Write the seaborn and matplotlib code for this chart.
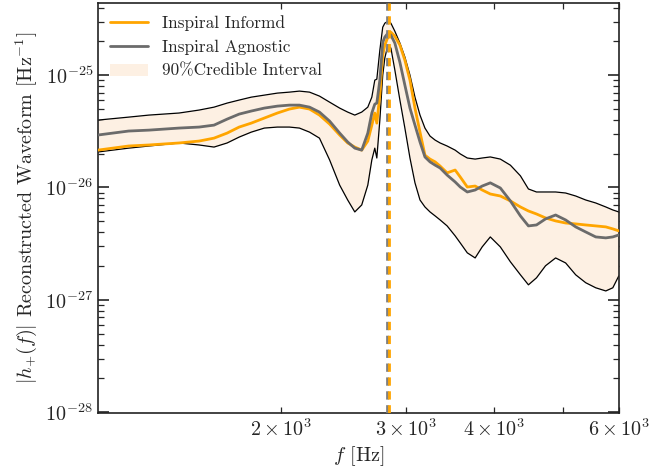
import numpy as np
import pandas as pd
import matplotlib
matplotlib.use("Agg")
import matplotlib.pyplot as plt
import seaborn as sns
from matplotlib.patches import Patch
from matplotlib.lines import Line2D

# ---- data ----
freq = [1100, 1216, 1299, 1433, 1530, 1606, 1676, 1743, 1813, 1892,
        1974, 2053, 2121, 2192, 2264, 2340, 2418, 2482, 2540, 2598,
        2650, 2685, 2711, 2729, 2756, 2782, 2801, 2829, 2857, 2894,
        2942, 2990, 3040, 3090, 3141, 3192, 3245, 3300, 3354, 3431,
        3522, 3581, 3664, 3759, 3846, 3949, 4080, 4216, 4356, 4471,
        4590, 4727, 4885, 5047, 5215, 5388, 5567, 5752, 5885, 6000]

informed = [2.15e-26, 2.34e-26, 2.39e-26, 2.49e-26, 2.59e-26, 2.75e-26, 3.05e-26, 3.45e-26, 3.74e-26, 4.15e-26,
            4.60e-26, 4.99e-26, 5.19e-26, 4.99e-26, 4.41e-26, 3.67e-26, 2.93e-26, 2.49e-26, 2.29e-26, 2.15e-26,
            2.59e-26, 3.59e-26, 4.60e-26, 3.74e-26, 6.64e-26, 1.51e-25, 1.85e-25, 2.18e-25, 2.41e-25, 2.22e-25,
            1.85e-25, 1.36e-25, 9.03e-26, 5.09e-26, 3.11e-26, 1.94e-26, 1.79e-26, 1.69e-26, 1.55e-26, 1.35e-26,
            1.43e-26, 1.24e-26, 1.01e-26, 1.03e-26, 9.50e-27, 8.75e-27, 8.40e-27, 7.59e-27, 6.71e-27, 6.18e-27,
            5.81e-27, 5.36e-27, 5.04e-27, 4.83e-27, 4.74e-27, 4.64e-27, 4.55e-27, 4.46e-27, 4.28e-27, 4.11e-27]

agnostic = [2.93e-26, 3.18e-26, 3.24e-26, 3.38e-26, 3.45e-26, 3.59e-26, 4.06e-26, 4.50e-26, 4.79e-26, 5.09e-26,
            5.30e-26, 5.41e-26, 5.41e-26, 5.19e-26, 4.69e-26, 3.90e-26, 3.05e-26, 2.54e-26, 2.24e-26, 2.15e-26,
            3.05e-26, 4.60e-26, 5.52e-26, 5.64e-26, 9.03e-26, 1.96e-25, 2.18e-25, 2.36e-25, 2.27e-25, 1.93e-25,
            1.30e-25, 8.15e-26, 5.09e-26, 3.59e-26, 2.54e-26, 1.87e-26, 1.69e-26, 1.58e-26, 1.49e-26, 1.29e-26,
            1.12e-26, 1.01e-26, 9.12e-27, 9.50e-27, 1.03e-26, 1.10e-26, 9.90e-27, 7.59e-27, 5.58e-27, 4.55e-27,
            4.64e-27, 5.25e-27, 5.69e-27, 5.14e-27, 4.46e-27, 4.02e-27, 3.63e-27, 3.56e-27, 3.63e-27, 3.78e-27]

upper = [3.98e-26, 4.23e-26, 4.41e-26, 4.60e-26, 4.89e-26, 5.19e-26, 5.64e-26, 6.00e-26, 6.37e-26, 6.64e-26,
         6.92e-26, 7.06e-26, 7.21e-26, 7.06e-26, 6.51e-26, 5.75e-26, 5.09e-26, 4.69e-26, 4.41e-26, 4.69e-26,
         5.19e-26, 6.37e-26, 9.03e-26, 9.21e-26, 1.67e-25, 2.67e-25, 2.90e-25, 3.02e-25, 2.90e-25, 2.46e-25,
         1.93e-25, 1.45e-25, 1.00e-25, 6.37e-26, 4.41e-26, 3.38e-26, 2.87e-26, 2.64e-26, 2.49e-26, 2.34e-26,
         2.15e-26, 1.99e-26, 1.83e-26, 1.79e-26, 1.83e-26, 1.87e-26, 1.79e-26, 1.58e-26, 1.27e-26, 9.70e-27,
         9.12e-27, 9.12e-27, 9.12e-27, 8.93e-27, 8.40e-27, 7.74e-27, 7.28e-27, 6.71e-27, 6.31e-27, 6.06e-27]

lower = [2.07e-26, 2.24e-26, 2.34e-26, 2.49e-26, 2.39e-26, 2.29e-26, 2.49e-26, 2.81e-26, 3.11e-26, 3.38e-26,
         3.45e-26, 3.45e-26, 3.38e-26, 3.11e-26, 2.75e-26, 1.76e-26, 1.05e-26, 7.74e-27, 6.06e-27, 6.99e-27,
         1.05e-26, 1.76e-26, 2.24e-26, 1.83e-26, 3.98e-26, 1.00e-25, 1.42e-25, 1.85e-25, 1.74e-25, 1.11e-25,
         6.00e-26, 3.38e-26, 1.83e-26, 1.10e-26, 7.74e-27, 6.71e-27, 6.06e-27, 5.58e-27, 5.14e-27, 4.55e-27,
         3.71e-27, 3.21e-27, 2.62e-27, 2.36e-27, 2.96e-27, 3.63e-27, 2.96e-27, 2.18e-27, 1.67e-27, 1.36e-27,
         1.57e-27, 2.01e-27, 2.36e-27, 2.13e-27, 1.67e-27, 1.42e-27, 1.28e-27, 1.20e-27, 1.28e-27, 1.63e-27]

peak_agnostic = 2820
peak_informed = 2838

labels = ["Inspiral Informd", "Inspiral Agnostic", "90%Credible Interval"]
yticks = [1e-28, 1e-27, 1e-26, 1e-25]

# ---- style ----
sns.set_style("ticks")
plt.rcParams.update({
    "font.family": "serif",
    "font.serif": ["cmr10", "DejaVu Serif"],
    "mathtext.fontset": "cm",
    "axes.formatter.use_mathtext": True,
    "axes.unicode_minus": False,
})

ORANGE = "#ffa500"
GRAY = "#6b6b6b"
FILL = "#fdf0e3"

fig = plt.figure(figsize=(6.52, 4.76), dpi=100)
ax = fig.add_axes([0.150, 0.132, 0.799, 0.862])

df = pd.DataFrame({"f": freq, "informed": informed, "agnostic": agnostic,
                   "upper": upper, "lower": lower})

ax.fill_between(df["f"], df["lower"], df["upper"], color=FILL, lw=0, zorder=1)
sns.lineplot(data=df, x="f", y="upper", ax=ax, color="black", lw=0.9,
             sort=False, estimator=None, zorder=2)
sns.lineplot(data=df, x="f", y="lower", ax=ax, color="black", lw=0.9,
             sort=False, estimator=None, zorder=2)
sns.lineplot(data=df, x="f", y="informed", ax=ax, color=ORANGE, lw=2,
             sort=False, estimator=None, zorder=3)
sns.lineplot(data=df, x="f", y="agnostic", ax=ax, color=GRAY, lw=2,
             sort=False, estimator=None, zorder=4)

ax.axvline(peak_agnostic, color="#808080", lw=2, ls=(0, (3, 2)), zorder=5)
ax.axvline(peak_informed, color=ORANGE, lw=2, ls=(0, (3, 2)), zorder=5)

ax.set_xscale("log")
ax.set_yscale("log")
ax.set_xlim(1100, 6000)
ax.set_ylim(9.8e-29, 4.4e-25)
ax.set_yticks(yticks)

ax.set_xlabel(r"$f$ [Hz]", fontsize=14.5, labelpad=3)
ax.set_ylabel(r"$|h_{+}(f)|$ Reconstructed Waveform [Hz$^{-1}$]", fontsize=14.5)

ax.tick_params(which="both", direction="in", top=True, right=True, labelsize=14.5)
ax.tick_params(which="major", length=8, width=1.2)
ax.tick_params(which="minor", length=4.5, width=0.9)
for s in ax.spines.values():
    s.set_linewidth(1.2)
    s.set_color("#222222")

handles = [Line2D([], [], color=ORANGE, lw=2),
           Line2D([], [], color=GRAY, lw=2),
           Patch(facecolor=FILL, edgecolor="none")]
ax.legend(handles, labels, loc="upper left", frameon=False, fontsize=12.4,
          borderaxespad=0.3, handlelength=2.2)

fig.savefig("out.png", dpi=100)
